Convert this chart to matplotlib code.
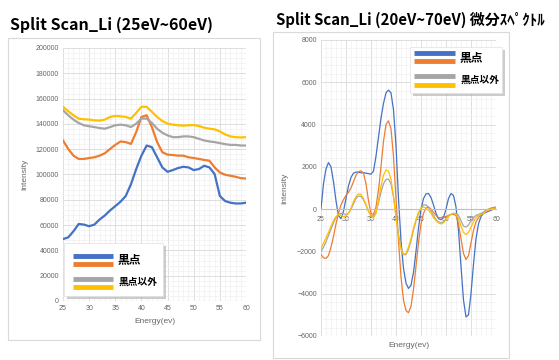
import matplotlib.pyplot as plt
import numpy as np
from matplotlib.patches import Rectangle
from matplotlib.ticker import MultipleLocator, AutoMinorLocator

plt.rcParams['font.family'] = ['Noto Sans CJK JP', 'DejaVu Sans']

# ---- data: left chart (raw spectra) ----
energy = list(range(25, 61))
kuro_1 = [48900, 50300, 55100, 60900, 60400, 59100, 60400, 64400, 67600, 71600,
          75000, 78500, 83000, 92300, 104300, 114900, 122900, 121600, 113600, 105600,
          102100, 103500, 105100, 106100, 105600, 103500, 104300, 106900, 105600, 100300,
          83000, 79000, 77700, 77100, 77100, 77700]
kuro_2 = [126900, 120200, 114900, 112300, 112300, 113000, 113600, 114900, 116800, 120200,
          123400, 126100, 125600, 124200, 133500, 145500, 146800, 137500, 125600, 117600,
          115700, 115400, 114900, 114900, 113600, 113000, 112300, 111500, 110900, 105600,
          101600, 99800, 99000, 98200, 97100, 96800]
igai_1 = [150800, 146800, 143400, 140700, 138900, 138100, 137500, 136700, 136200, 137500,
          138900, 139400, 138900, 137500, 140200, 144200, 144200, 140700, 136200, 133000,
          130900, 129500, 129500, 130100, 130100, 129500, 128200, 126900, 126100, 125600,
          124800, 124000, 123400, 123400, 122900, 122900]
igai_2 = [153500, 150000, 146800, 144200, 143600, 143400, 142800, 142600, 143400, 145500,
          146300, 146000, 145500, 144200, 148700, 153500, 153500, 149500, 145500, 142300,
          140200, 139400, 138900, 138600, 138900, 139100, 138300, 137000, 136200, 135700,
          134100, 131700, 130100, 129500, 129300, 129500]

# ---- data: right chart (derivative spectra), 0.5 eV steps ----
energy_d = [25 + 0.5 * i for i in range(71)]
d_kuro_1 = [0, 1200, 1900, 2200, 2000, 1300, 400, -300, -450, -100,
            500, 1100, 1500, 1700, 1750, 1750, 1720, 1720, 1700, 1680,
            1650, 1800, 2500, 3400, 4300, 5000, 5500, 5630, 5500, 4700,
            3000, 500, -1500, -2800, -3500, -3750, -3600, -3000, -2000, -900,
            0, 500, 720, 740, 550, 200, -200, -450, -500, -400,
            0, 500, 740, 650, 100, -1000, -2700, -4300, -5100, -5000,
            -4000, -2600, -1400, -700, -350, -200, -150, -100, -50, 0, 50]
d_kuro_2 = [-2150, -2300, -2330, -2200, -1800, -1300, -700, -200, 200, 450,
            650, 800, 1000, 1300, 1600, 1780, 1810, 1700, 1200, 400,
            -200, -250, 100, 900, 2000, 3200, 4000, 4180, 3800, 2500,
            500, -1500, -3200, -4300, -4800, -4900, -4600, -3800, -2700, -1600,
            -700, -200, 50, 100, 0, -150, -300, -400, -400, -380,
            -350, -300, -250, -250, -300, -700, -1400, -2100, -2380, -2200,
            -1600, -1000, -600, -400, -250, -150, -50, 0, 50, 80, 100]
d_igai_1 = [-2000, -1800, -1550, -1250, -950, -650, -400, -250, -200, -220,
            -250, -200, 0, 250, 500, 620, 600, 450, 200, -100,
            -300, -330, -150, 300, 800, 1200, 1400, 1420, 1200, 600,
            -300, -1200, -1800, -2150, -2150, -1900, -1500, -1000, -550, -200,
            50, 200, 200, 100, -100, -300, -500, -600, -650, -600,
            -450, -300, -250, -200, -200, -300, -550, -800, -850, -750,
            -550, -400, -300, -250, -200, -150, -80, -30, 0, 30, 50]
d_igai_2 = [-1850, -1600, -1350, -1100, -800, -550, -350, -250, -300, -350,
            -320, -200, 50, 350, 600, 720, 700, 500, 200, -100,
            -350, -420, -200, 400, 1100, 1600, 1850, 1800, 1400, 600,
            -400, -1300, -1900, -2150, -2100, -1800, -1400, -900, -500, -150,
            50, 100, 50, -50, -200, -400, -550, -650, -700, -650,
            -500, -350, -250, -200, -250, -450, -800, -1100, -1200, -1100,
            -850, -600, -400, -300, -250, -200, -100, -50, 0, 20, 50]

colors = ['#4472C4', '#ED7D31', '#A5A5A5', '#FFC000']
label_gray = '#666666'

fig = plt.figure(figsize=(5.59, 3.60), dpi=100)

# chart-area frames (behind everything)
fig.patches.append(Rectangle((0.0143, 0.0556), 0.4508, 0.839, transform=fig.transFigure,
                             facecolor='white', edgecolor='#D9D9D9', lw=0.8, zorder=-5))
fig.patches.append(Rectangle((0.4884, 0.0056), 0.4222, 0.9056, transform=fig.transFigure,
                             facecolor='white', edgecolor='#D9D9D9', lw=0.8, zorder=-5))


def style_axes(ax):
    ax.set_facecolor('none')
    for s in ax.spines.values():
        s.set_visible(False)
    ax.xaxis.set_minor_locator(AutoMinorLocator(5))
    ax.yaxis.set_minor_locator(AutoMinorLocator(5))
    ax.grid(which='major', color='#D9D9D9', lw=0.6)
    ax.grid(which='minor', color='#F0F0F0', lw=0.5)
    ax.set_axisbelow(True)
    ax.tick_params(which='both', length=0, pad=3, labelsize=5, labelcolor=label_gray,
                   labelfontfamily='Liberation Sans')


def draw_legend(rect, text_size1, text_size2, ys, tx, ty1, ty2, patch_x):
    lax = fig.add_axes(rect)
    lax.set_xlim(0, 1)
    lax.set_ylim(0, 1)
    lax.axis('off')
    # shadow
    lax.add_patch(Rectangle((0.03, -0.06), 1.0, 1.0, transform=lax.transAxes,
                            facecolor='#AAAAAA', edgecolor='none', alpha=0.6, clip_on=False))
    lax.add_patch(Rectangle((0, 0), 1, 1, transform=lax.transAxes,
                            facecolor='white', edgecolor='#E0E0E0', lw=0.5, clip_on=False))
    for c, y in zip(colors, ys):
        lax.plot(patch_x, [y, y], color=c, lw=3.5, solid_capstyle='butt')
    lax.text(tx, ty1, '黒点', fontsize=text_size1, fontweight='bold', va='center', ha='left')
    lax.text(tx + 0.01, ty2, '黒点以外', fontsize=text_size2, fontweight='bold',
             va='center', ha='left')


# ---- left chart ----
ax1 = fig.add_axes([0.1127, 0.1639, 0.3274, 0.7028])
for series, c in zip([kuro_1, kuro_2, igai_1, igai_2], colors):
    ax1.plot(energy, series, color=c, lw=1.6)
ax1.set_xlim(25, 60)
ax1.set_ylim(0, 200000)
ax1.xaxis.set_major_locator(MultipleLocator(5))
ax1.yaxis.set_major_locator(MultipleLocator(20000))
style_axes(ax1)
ax1.axhline(0, color='#BFBFBF', lw=0.8)
ax1.set_xlabel('Energy(ev)', family='Liberation Sans', fontsize=6, color=label_gray, labelpad=4)
ax1.set_ylabel('Intensity', family='Liberation Sans', fontsize=6, color=label_gray, labelpad=5)
fig.text(0.018, 0.93, 'Split Scan_Li (25eV~60eV)', fontsize=11.5, fontweight='bold',
         va='center', ha='left')

draw_legend([0.1145, 0.1778, 0.1771, 0.1472], 8.5, 7, [0.755, 0.604, 0.32, 0.17],
            0.545, 0.68, 0.27, [0.09, 0.495])

# ---- right chart ----
ax2 = fig.add_axes([0.5742, 0.0667, 0.3131, 0.8222])
for series, c in zip([d_kuro_1, d_kuro_2, d_igai_1, d_igai_2], colors):
    ax2.plot(energy_d, series, color=c, lw=0.9)
ax2.set_xlim(25, 60)
ax2.set_ylim(-6000, 8000)
ax2.xaxis.set_major_locator(MultipleLocator(5))
ax2.yaxis.set_major_locator(MultipleLocator(2000))
style_axes(ax2)
ax2.tick_params(axis='x', pad=5)
ax2.spines['bottom'].set_visible(True)
ax2.spines['bottom'].set_position(('data', 0))
ax2.spines['bottom'].set_color('#BFBFBF')
ax2.spines['bottom'].set_linewidth(0.8)
ax2.set_xlabel('Energy(ev)', family='Liberation Sans', fontsize=6, color=label_gray)
ax2.xaxis.set_label_coords(0.5, -0.022)
ax2.set_ylabel('Intensity', family='Liberation Sans', fontsize=6, color=label_gray, labelpad=6)
fig.text(0.494, 0.944, 'Split Scan_Li (20eV~70eV) 微分ｽﾍﾟｸﾄﾙ', fontsize=10.8, fontweight='bold',
         va='center', ha='left')

draw_legend([0.7335, 0.7417, 0.1646, 0.1278], 8.5, 7, [0.87, 0.696, 0.37, 0.174],
            0.54, 0.76, 0.283, [0.043, 0.489])

fig.savefig('out.png', dpi=100)
